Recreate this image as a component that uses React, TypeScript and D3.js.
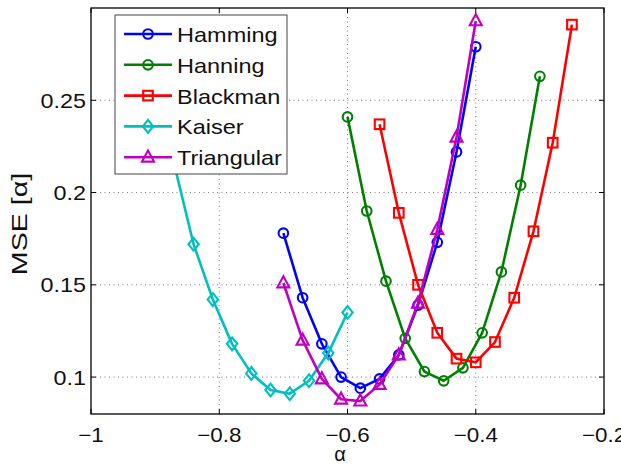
import React from "react";
import * as d3 from "d3";

// Window length factor α and the resulting mean squared error for each window type
const hammingAlpha = [-0.70, -0.67, -0.64, -0.61, -0.58, -0.55, -0.52, -0.49, -0.46, -0.43, -0.40];
const hammingMse = [0.178, 0.143, 0.118, 0.100, 0.094, 0.099, 0.112, 0.139, 0.173, 0.222, 0.279];

const hanningAlpha = [-0.60, -0.57, -0.54, -0.51, -0.48, -0.45, -0.42, -0.39, -0.36, -0.33, -0.30];
const hanningMse = [0.241, 0.190, 0.152, 0.121, 0.103, 0.098, 0.105, 0.124, 0.157, 0.204, 0.263];

const blackmanAlpha = [-0.55, -0.52, -0.49, -0.46, -0.43, -0.40, -0.37, -0.34, -0.31, -0.28, -0.25];
const blackmanMse = [0.237, 0.189, 0.150, 0.124, 0.110, 0.108, 0.119, 0.143, 0.179, 0.227, 0.291];

const kaiserAlpha = [-0.90, -0.87, -0.84, -0.81, -0.78, -0.75, -0.72, -0.69, -0.66, -0.63, -0.60];
const kaiserMse = [0.262, 0.215, 0.172, 0.142, 0.118, 0.102, 0.093, 0.091, 0.098, 0.113, 0.135];

const triangularAlpha = [-0.70, -0.67, -0.64, -0.61, -0.58, -0.55, -0.52, -0.49, -0.46, -0.43, -0.40];
const triangularMse = [0.151, 0.120, 0.099, 0.088, 0.087, 0.096, 0.112, 0.140, 0.180, 0.230, 0.293];

const xTicks = [-1, -0.8, -0.6, -0.4, -0.2];
const yTicks = [0.1, 0.15, 0.2, 0.25];

type Marker = "circle" | "square" | "diamond" | "triangle";

const series: { name: string; color: string; marker: Marker; xs: number[]; ys: number[] }[] = [
  { name: "Hamming", color: "#0000ff", marker: "circle", xs: hammingAlpha, ys: hammingMse },
  { name: "Hanning", color: "#008000", marker: "circle", xs: hanningAlpha, ys: hanningMse },
  { name: "Blackman", color: "#ff0000", marker: "square", xs: blackmanAlpha, ys: blackmanMse },
  { name: "Kaiser", color: "#00bfbf", marker: "diamond", xs: kaiserAlpha, ys: kaiserMse },
  { name: "Triangular", color: "#bf00bf", marker: "triangle", xs: triangularAlpha, ys: triangularMse },
];

const W = 621;
const H = 466;
const left = 91;
const right = 604;
const top = 8;
const bottom = 414;

const FONT = "'Liberation Sans', Arial, Helvetica, sans-serif";

const fmt = (v: number) => {
  const s = String(v);
  return s.startsWith("-") ? "\u2212" + s.slice(1) : s;
};

function MarkerShape({ kind, x, y, color }: { kind: Marker; x: number; y: number; color: string }) {
  const common = { fill: "none", stroke: color, strokeWidth: 2.1 };
  if (kind === "circle") return <circle cx={x} cy={y} r={4.8} {...common} />;
  if (kind === "square") return <rect x={x - 4.8} y={y - 4.8} width={9.6} height={9.6} {...common} />;
  if (kind === "diamond")
    return <path d={`M${x},${y - 6.4}L${x + 5.2},${y}L${x},${y + 6.4}L${x - 5.2},${y}Z`} {...common} />;
  return <path d={`M${x},${y - 6.8}L${x + 6},${y + 4.4}L${x - 6},${y + 4.4}Z`} {...common} />;
}

export default function App() {
  const x = d3.scaleLinear().domain([-1, -0.2]).range([left, right]);
  const y = d3.scaleLinear().domain([0.08, 0.3]).range([bottom, top]);
  const line = d3
    .line<[number, number]>()
    .x((d) => x(d[0]))
    .y((d) => y(d[1]));

  const legX = 115;
  const legY = 15;
  const legW = 172;
  const legH = 159;
  const rowH = 30.8;

  return (
    <svg width={W} height={H} style={{ position: "absolute", left: 0, top: 0, background: "#fff" }}>
      <defs>
        <clipPath id="plotArea">
          <rect x={left} y={top} width={right - left} height={bottom - top} />
        </clipPath>
      </defs>
      <rect x={0} y={0} width={W} height={H} fill="#fff" />

      {/* dotted grid */}
      <g stroke="#7a7a7a" strokeWidth={1} strokeDasharray="1,3.5">
        {xTicks.slice(1, -1).map((t) => (
          <line key={"gx" + t} x1={x(t)} x2={x(t)} y1={top} y2={bottom} />
        ))}
        {yTicks.map((t) => (
          <line key={"gy" + t} x1={left} x2={right} y1={y(t)} y2={y(t)} />
        ))}
      </g>

      {/* tick marks on all four sides */}
      <g stroke="#000" strokeWidth={1}>
        {xTicks.map((t) => (
          <g key={"tx" + t}>
            <line x1={x(t)} x2={x(t)} y1={bottom} y2={bottom - 5} />
            <line x1={x(t)} x2={x(t)} y1={top} y2={top + 5} />
          </g>
        ))}
        {yTicks.map((t) => (
          <g key={"ty" + t}>
            <line x1={left} x2={left + 5} y1={y(t)} y2={y(t)} />
            <line x1={right} x2={right - 5} y1={y(t)} y2={y(t)} />
          </g>
        ))}
      </g>

      {/* curves */}
      <g clipPath="url(#plotArea)">
        {series.map((s) => {
          const pts = s.xs.map((v, i) => [v, s.ys[i]] as [number, number]);
          return (
            <g key={s.name}>
              <path d={line(pts) ?? ""} fill="none" stroke={s.color} strokeWidth={2.6} strokeLinejoin="round" />
              {pts.map((p, i) => (
                <MarkerShape key={i} kind={s.marker} x={x(p[0])} y={y(p[1])} color={s.color} />
              ))}
            </g>
          );
        })}
      </g>

      {/* axes box */}
      <rect x={left} y={top} width={right - left} height={bottom - top} fill="none" stroke="#000" strokeWidth={1.3} />

      {/* tick labels */}
      <g fontFamily={FONT} fontSize={20} fill="#111">
        {xTicks.map((t) => (
          <g key={"lx" + t} transform={`translate(${x(t)},441.5) scale(1.12,1)`}>
            <text textAnchor="middle">{fmt(t)}</text>
          </g>
        ))}
        {yTicks.map((t) => (
          <g key={"ly" + t} transform={`translate(86,${y(t) + 7.5}) scale(1.17,1)`}>
            <text textAnchor="end">{fmt(t)}</text>
          </g>
        ))}
      </g>

      {/* axis labels */}
      <g transform="translate(27,224) rotate(-90) scale(1.3,1)">
        <text fontFamily={FONT} fontSize={22} textAnchor="middle" fill="#111">
          MSE [α]
        </text>
      </g>
      <text x={340} y={461} fontFamily={FONT} fontSize={20} textAnchor="middle" fill="#111">
        α
      </text>

      {/* legend */}
      <rect x={legX} y={legY} width={legW} height={legH} fill="#fff" stroke="#444" strokeWidth={1} />
      {series.map((s, i) => {
        const cy = legY + 19 + i * rowH;
        return (
          <g key={"leg" + s.name}>
            <line x1={124} x2={172} y1={cy} y2={cy} stroke={s.color} strokeWidth={2.6} />
            <MarkerShape kind={s.marker} x={148} y={cy} color={s.color} />
            <g transform={`translate(177,${cy + 8}) scale(1.12,1)`}>
              <text fontFamily={FONT} fontSize={21} fill="#111">
                {s.name}
              </text>
            </g>
          </g>
        );
      })}
    </svg>
  );
}
